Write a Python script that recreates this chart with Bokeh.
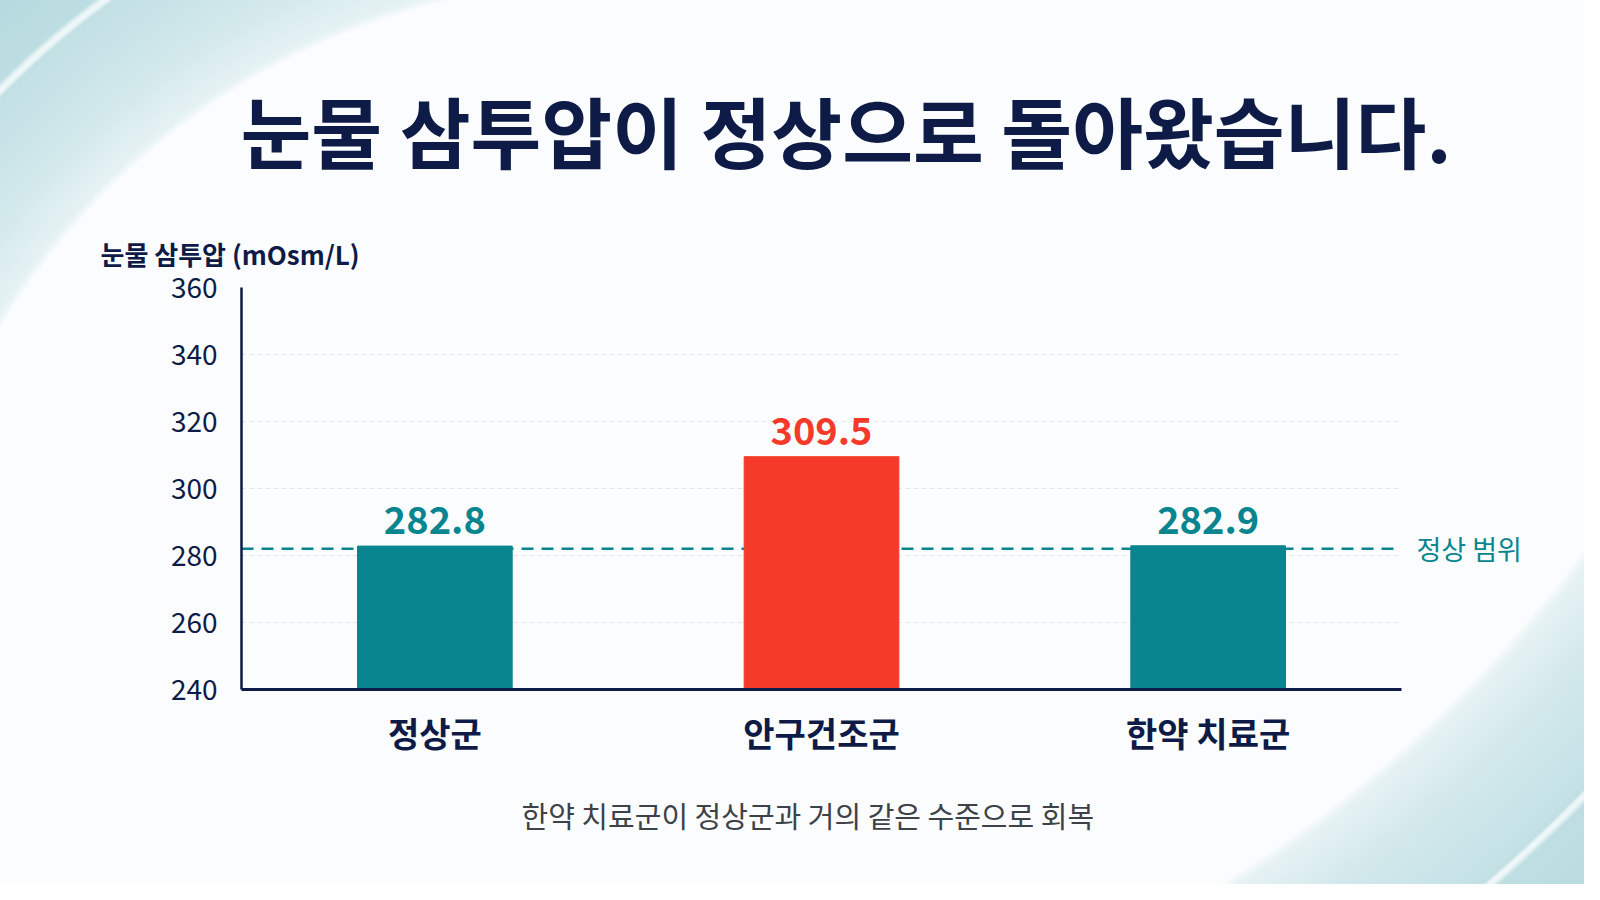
from bokeh.plotting import figure
from bokeh.models import Range1d, FixedTicker, Span, Title, LinearAxis
from bokeh.core.properties import value
from bokeh.embed import file_html
from bokeh.resources import INLINE

# data
categories = ["정상군", "안구건조군", "한약 치료군"]
osmolarity = [282.8, 309.5, 282.9]
normal_level = 282.0
y_ticks = [240, 260, 280, 300, 320, 340, 360]

title_text = "눈물 삼투압이 정상으로 돌아왔습니다."
axis_title = "눈물 삼투압 (mOsm/L)"
normal_text = "정상 범위"
caption = "한약 치료군이 정상군과 거의 같은 수준으로 회복"

# styles
NAVY = "#0d1b46"
TEAL = "#08858f"
RED = "#f53a2a"
BG = "#fafcfd"
FONT = "Noto Sans CJK KR"
bar_colors = [TEAL, RED, TEAL]

W, H = 1584, 884
L, R, T, B = 241, 1401, 287, 689

# category slots on a numeric axis: centres at 0.5, 1.5, 2.5
xpos = [i + 0.5 for i in range(len(categories))]

p = figure(x_range=Range1d(0, len(categories)), y_range=Range1d(240, 360),
           width=W, height=H, output_backend="svg", toolbar_location=None,
           min_border_left=L, min_border_right=W - R,
           min_border_top=T, min_border_bottom=H - B)
p.outline_line_color = None
p.background_fill_color = None
p.border_fill_color = None

# decorative swooshes in the corners as a css background behind the canvas
tl = ("radial-gradient(circle at 613px 696px, rgba(250,252,253,0) 0px, rgba(250,252,253,0) 714px, "
      "#e6f2f4 722px, #d3e9ec 770px, #c6e2e6 830px, #c2e0e4 856px, #eef7f8 860px, "
      "#eef7f8 863px, #bcdde1 868px, #b3d9de 940px)")
br = ("radial-gradient(circle at -501px -704px, rgba(250,252,253,0) 0px, rgba(250,252,253,0) 1322px, "
      "#e6f2f4 1332px, #d2e8eb 1390px, #c4e2e6 1470px, #c2e0e4 1478px, #eef7f8 1481px, "
      "#eef7f8 1484px, #bedee2 1489px, #b8dbdf 1560px)")
p.styles = {
    "background-color": BG,
    "background-image": tl + ", " + br,
    "background-size": "520px 400px, 560px 420px",
    "background-position": "left top, right bottom",
    "background-repeat": "no-repeat",
}

# normal range line (behind bars)
p.add_layout(Span(location=normal_level, dimension="width", line_color=TEAL,
                  line_width=2.5, line_dash="12 8", level="underlay"))

p.vbar(x=xpos, top=osmolarity, bottom=240, width=0.4, color=bar_colors)
p.text(x=xpos, y=osmolarity, text=[f"{v:.1f}" for v in osmolarity],
       y_offset=-12, text_align="center", text_baseline="bottom",
       text_color=bar_colors, text_font=value(FONT), text_font_style="bold",
       text_font_size="38px")

# axes
p.yaxis.ticker = FixedTicker(ticks=y_ticks)
p.yaxis.axis_line_color = NAVY
p.yaxis.axis_line_width = 2.5
p.yaxis.major_tick_line_color = None
p.yaxis.major_tick_out = 0
p.yaxis.minor_tick_line_color = None
p.yaxis.major_label_standoff = 24
p.yaxis.major_label_text_font = FONT
p.yaxis.major_label_text_font_size = "28px"
p.yaxis.major_label_text_color = NAVY

p.xaxis.ticker = FixedTicker(ticks=xpos)
p.xaxis.major_label_overrides = {x: c for x, c in zip(xpos, categories)}
p.xaxis.axis_line_color = NAVY
p.xaxis.axis_line_width = 3
p.xaxis.major_tick_line_color = None
p.xaxis.major_tick_out = 0
p.xaxis.minor_tick_line_color = None
p.xaxis.major_label_standoff = 18
p.xaxis.major_label_text_font = FONT
p.xaxis.major_label_text_font_style = "bold"
p.xaxis.major_label_text_font_size = "34px"
p.xaxis.major_label_text_color = NAVY

# "정상 범위" tag on the right, at the normal level
normal_axis = LinearAxis(ticker=FixedTicker(ticks=[normal_level]),
                         major_label_overrides={normal_level: normal_text},
                         axis_line_color=None, major_tick_line_color=None,
                         minor_tick_line_color=None, major_tick_out=0,
                         major_label_standoff=15, major_label_text_font=FONT,
                         major_label_text_font_size="27px",
                         major_label_text_color=TEAL)
p.add_layout(normal_axis, "right")

p.xgrid.grid_line_color = None
p.ygrid.grid_line_color = "#e0e4e8"
p.ygrid.grid_line_dash = "4 4"
p.ygrid.grid_line_width = 1

# texts around the frame
p.add_layout(Title(text=axis_title, align="left", offset=-141, standoff=31,
                   text_font=FONT, text_font_size="26px", text_font_style="bold",
                   text_color=NAVY), "above")
p.add_layout(Title(text=title_text, align="left", offset=-1, standoff=66,
                   text_font=FONT, text_font_size="77px", text_font_style="bold",
                   text_color=NAVY), "above")
p.add_layout(Title(text=caption, align="left", offset=280, standoff=65,
                   text_font=FONT, text_font_size="29px", text_font_style="normal",
                   text_color="#3d4248"), "below")

open("out.html", "w").write(file_html(p, INLINE))
